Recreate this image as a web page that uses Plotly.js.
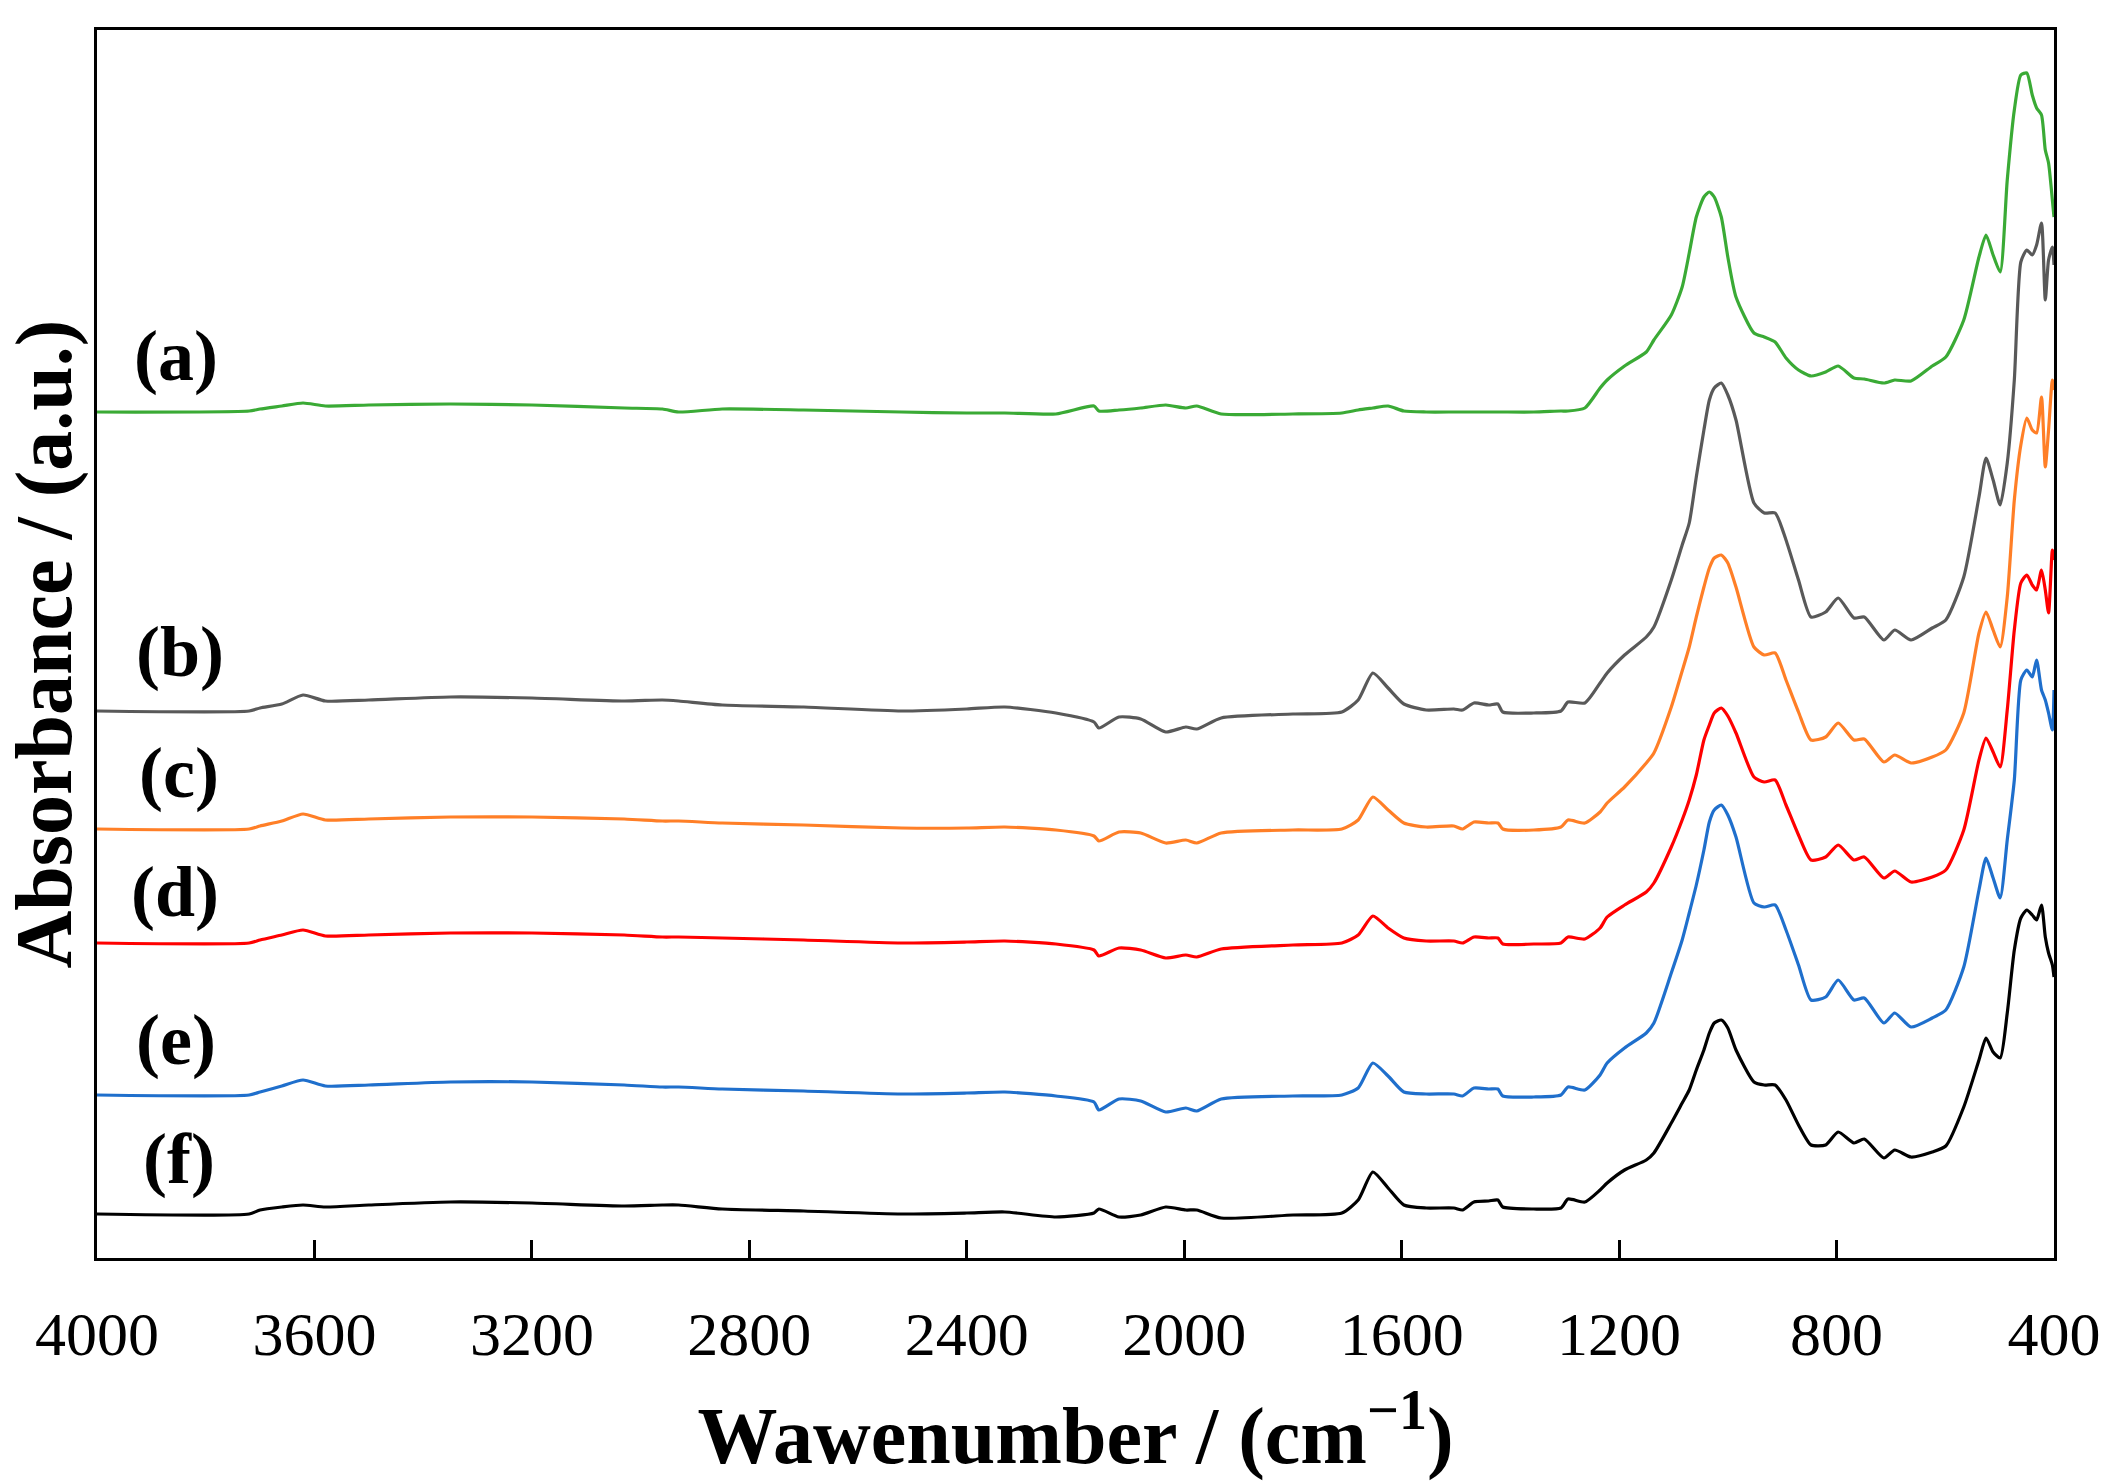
<!DOCTYPE html>
<html>
<head>
<meta charset="utf-8">
<script src="https://cdn.plot.ly/plotly-3.0.1.min.js"></script>
<style>
  html, body { margin: 0; padding: 0; background: #fff; }
  #chart { width: 2109px; height: 1481px; }
</style>
</head>
<body>
<div id="chart"></div>
<script>
// shared wavenumber grid (cm-1)
const wavenumber = [
    4000, 3720, 3700, 3660, 3621, 3580, 3500, 3350, 3200, 3030,
    2960, 2930, 2850, 2700, 2520, 2400, 2330, 2236, 2166, 2157,
    2120, 2080, 2034, 1997, 1977, 1932, 1800, 1710, 1680, 1653,
    1625, 1596, 1555, 1504, 1488, 1467, 1440, 1423, 1414, 1357,
    1307, 1294, 1263, 1235, 1222, 1190, 1150, 1136, 1104, 1084,
    1071, 1058, 1044, 1034, 1025, 1012, 1000, 985, 952, 933,
    913, 893, 870, 847, 820, 797, 768, 749, 713, 693,
    663, 624, 599, 566, 538, 525, 512, 499, 486, 473,
    461, 450, 440, 432, 423, 416, 410, 403, 400
];

// stacked absorbance, arbitrary units (offsets included as drawn)
const absA = [
    846, 847, 849, 852, 855, 852, 853, 854, 853, 850,
    849, 846, 849, 848, 846, 845, 845, 844, 852, 847,
    848, 850, 853, 850, 852, 844, 844, 845, 848, 850,
    852, 847, 846, 846, 846, 846, 846, 846, 846, 846,
    847, 847, 850, 870, 878, 892, 906, 918, 943, 971,
    1005, 1041, 1061, 1066, 1061, 1041, 1001, 961, 925, 921,
    916, 900, 888, 882, 886, 892, 880, 879, 875, 878,
    877, 892, 901, 938, 1001, 1023, 1003, 986, 1078, 1148,
    1183, 1185, 1163, 1150, 1143, 1108, 1095, 1058, 1041
];
const absB = [
    547, 547, 550, 554, 563, 557, 558, 561, 560, 557,
    558, 557, 553, 551, 547, 549, 551, 545, 536, 530,
    541, 539, 526, 531, 529, 540, 544, 546, 558, 585,
    570, 554, 548, 549, 548, 555, 553, 554, 546, 545,
    547, 556, 555, 575, 585, 603, 621, 631, 678, 713,
    735, 781, 828, 858, 870, 875, 863, 838, 755, 745,
    745, 718, 678, 641, 646, 660, 640, 641, 618, 628,
    618, 630, 638, 681, 761, 800, 778, 753, 795, 878,
    996, 1008, 1003, 1013, 1035, 958, 998, 1011, 993
];
const absC = [
    429, 429, 432, 437, 444, 438, 439, 441, 441, 439,
    437, 437, 435, 433, 430, 430, 431, 428, 422, 417,
    426, 425, 415, 418, 415, 425, 428, 429, 438, 461,
    448, 435, 431, 432, 429, 436, 435, 435, 429, 428,
    431, 438, 435, 446, 455, 471, 495, 505, 551, 587,
    611, 641, 671, 690, 700, 703, 695, 671, 611, 603,
    605, 578, 546, 518, 521, 535, 518, 519, 496, 503,
    495, 501, 508, 545, 625, 646, 628, 611, 661, 758,
    813, 840, 828, 825, 861, 791, 828, 878, 868
];
const absD = [
    315, 315, 318, 323, 328, 322, 323, 325, 325, 323,
    321, 321, 320, 318, 315, 316, 317, 314, 308, 302,
    310, 308, 300, 303, 301, 309, 313, 315, 323, 342,
    330, 320, 317, 317, 315, 321, 320, 320, 314, 314,
    315, 321, 319, 330, 341, 353, 366, 375, 411, 438,
    458, 483, 518, 533, 545, 550, 542, 525, 481, 476,
    478, 453, 423, 398, 401, 413, 398, 401, 380, 387,
    376, 381, 388, 428, 498, 520, 506, 491, 548, 628,
    675, 683, 673, 668, 688, 668, 645, 708, 698
];
const absE = [
    163, 163, 166, 172, 178, 172, 173, 176, 176, 173,
    171, 171, 169, 167, 164, 165, 166, 162, 156, 148,
    159, 157, 146, 150, 147, 159, 162, 163, 170, 195,
    182, 166, 164, 164, 162, 170, 169, 169, 162, 161,
    163, 171, 168, 183, 195, 210, 225, 235, 285, 318,
    345, 373, 408, 436, 448, 453, 443, 421, 355, 351,
    353, 328, 293, 258, 261, 278, 258, 260, 235, 245,
    231, 240, 248, 291, 368, 400, 380, 360, 418, 478,
    578, 588, 581, 598, 568, 558, 545, 528, 568
];
const absF = [
    44, 44, 48, 51, 53, 51, 53, 56, 55, 52,
    53, 53, 49, 47, 44, 45, 46, 41, 45, 49,
    41, 43, 51, 48, 48, 40, 43, 45, 58, 86,
    70, 53, 50, 50, 48, 56, 57, 58, 51, 49,
    50, 59, 56, 68, 75, 88, 98, 105, 135, 155,
    168, 188, 208, 225, 235, 238, 230, 208, 176, 173,
    173, 158, 133, 113, 113, 126, 115, 119, 100, 108,
    101, 106, 112, 151, 198, 220, 206, 200, 245, 308,
    340, 348, 343, 338, 353, 321, 305, 293, 281
];

const seriesNames = ['(a)', '(b)', '(c)', '(d)', '(e)', '(f)'];
const seriesColors = ['#3aaa35', '#595959', '#ff7f27', '#ff0000', '#1f6fcc', '#000000'];
const seriesValues = [absA, absB, absC, absD, absE, absF];

// where the (a)...(f) labels sit, in data units
const labelX = [3855, 3847, 3849, 3857, 3855, 3849];
const labelY = [902, 606, 485, 366, 218, 99];

const tickValues = [4000, 3600, 3200, 2800, 2400, 2000, 1600, 1200, 800, 400];

const serif = 'Liberation Serif, Times New Roman, serif';

let data = seriesValues.map((vals, i) => ({
    x: wavenumber,
    y: vals,
    type: 'scatter',
    mode: 'lines',
    name: seriesNames[i],
    line: { color: seriesColors[i], width: 3.2, shape: 'spline', smoothing: 0.6 },
    hoverinfo: 'skip'
}));

let annotations = seriesNames.map((name, i) => ({
    x: labelX[i],
    y: labelY[i],
    xref: 'x',
    yref: 'y',
    text: '<b>' + name + '</b>',
    showarrow: false,
    font: { family: serif, size: 72, color: '#000' }
}));

let layout = {
    width: 2109,
    height: 1481,
    margin: { l: 97, r: 55, t: 30, b: 223 },
    paper_bgcolor: '#fff',
    plot_bgcolor: '#fff',
    showlegend: false,
    font: { family: serif, color: '#000' },
    xaxis: {
        range: [4000, 400],
        tickvals: tickValues,
        ticktext: tickValues.map(String),
        ticks: 'inside',
        ticklen: 18,
        tickwidth: 3,
        tickcolor: '#000',
        ticklabelstandoff: 20,
        tickfont: { family: serif, size: 62, color: '#000' },
        showline: true,
        linecolor: '#000',
        linewidth: 3,
        mirror: true,
        showgrid: false,
        zeroline: false,
        title: {
            text: '<b>Wawenumber / (cm<sup>\u22121</sup>)</b>',
            font: { family: serif, size: 80, color: '#000' },
            standoff: 42
        }
    },
    yaxis: {
        range: [0, 1228],
        showticklabels: false,
        ticks: '',
        showline: true,
        linecolor: '#000',
        linewidth: 3,
        mirror: true,
        showgrid: false,
        zeroline: false,
        title: {
            text: '<b>Absorbance / (a.u.)</b>',
            font: { family: serif, size: 80, color: '#000' },
            standoff: 0
        }
    },
    annotations: annotations
};

Plotly.newPlot('chart', data, layout, { staticPlot: true, displayModeBar: false });
</script>
</body>
</html>
